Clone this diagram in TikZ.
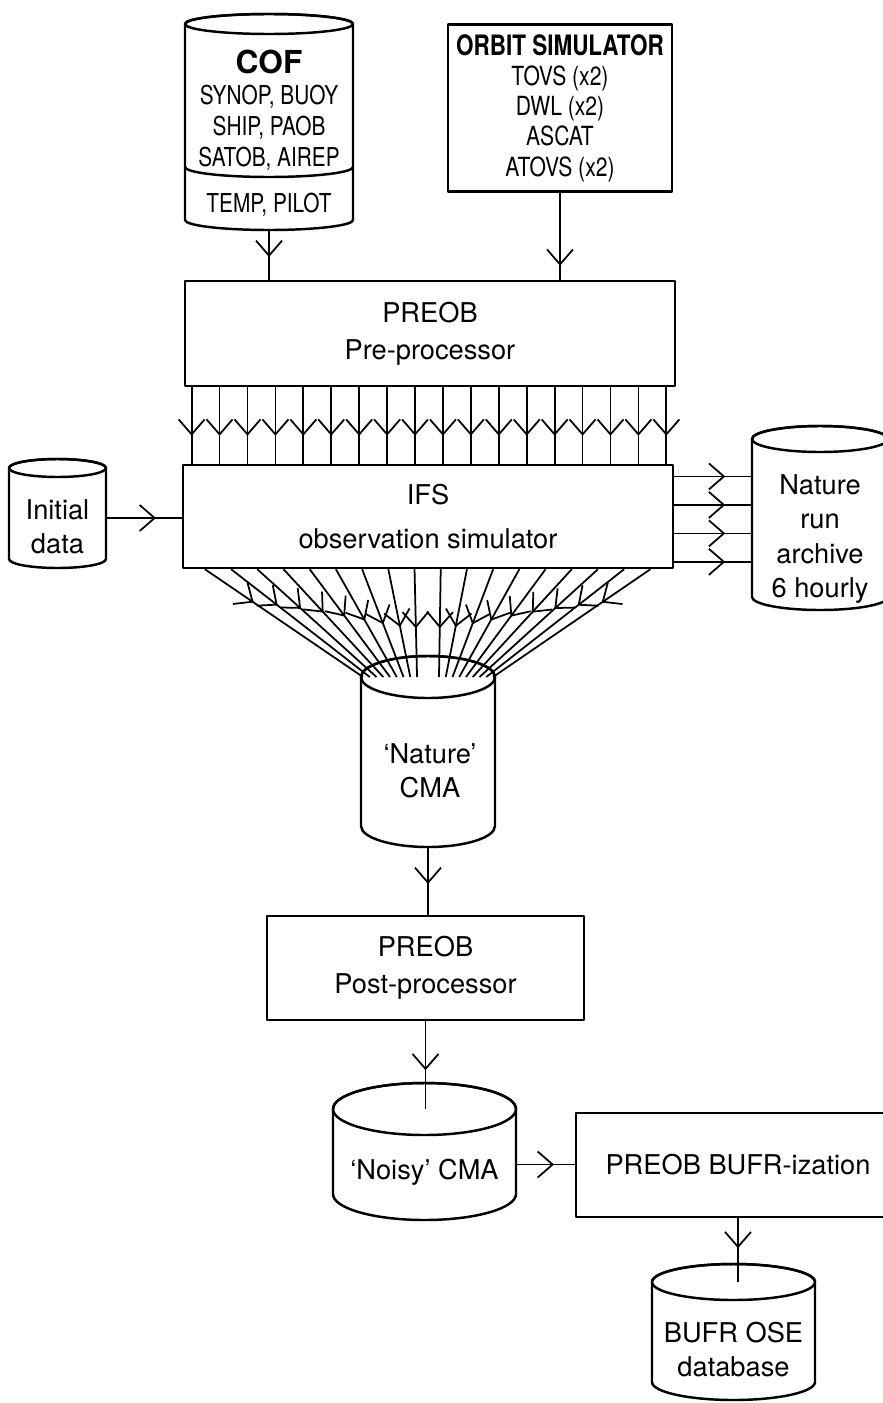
\documentclass[tikz,border=0pt]{standalone}
\usepackage{fontspec}
\setmainfont{TeX Gyre Heros}
\newfontfamily\condfont[FakeStretch=0.8]{TeX Gyre Heros}
\usetikzlibrary{positioning, calc}
\usetikzlibrary{arrows.meta}
\usetikzlibrary{decorations.markings}

% drum: name, cx, y of top ellipse, y of bottom ellipse, rx, ry
\newcommand{\drum}[6]{%
	\filldraw[drumline, fill=white] (#2-#5,#3) -- (#2-#5,#4)
		arc[start angle=180, end angle=0, x radius=#5, y radius=#6] -- (#2+#5,#3)
		arc[start angle=360, end angle=180, x radius=#5, y radius=#6] -- cycle;
	\draw[drumline] (#2,#3) ellipse [x radius=#5, y radius=#6];
	\node[drumbody, minimum width=2*#5*0.2mm, minimum height=(#4+#6-#3)*0.2mm] (#1) at (#2,{(#3+#4+#6)/2}) {};
}

\begin{document}
\begin{tikzpicture}[x=0.2mm, y=-0.2mm, line join=round]
	\tikzstyle{link}=[line width=1pt]
	\tikzstyle{drumline}=[line width=1.4pt]
	\tikzstyle{drumbody}=[inner sep=0pt, outer sep=0pt]
	\tikzstyle{procbox}=[draw, line width=1.4pt, fill=white, inner sep=0pt, align=center, font=\fontsize{15.5}{21}\selectfont]
	\tikzstyle{dbtext}=[align=center, inner sep=0pt, font=\fontsize{15.5}{19.5}\selectfont]
	\tikzset{midarrow/.style={postaction={decorate}, decoration={markings,
		mark=at position #1 with {\arrow{Straight Barb[length=3mm, width=5.2mm]}}}}}

	\useasboundingbox (0,0) rectangle (883,1403);
	\clip (0,0) rectangle (883,1403);

	% stores
	\drum{cof}{269}{24}{220}{84}{10}
	\draw[drumline] (185,167) arc[start angle=180, end angle=0, x radius=84, y radius=10];
	\drum{init}{57.5}{468}{559}{48.5}{9}
	\drum{arch}{820}{439}{597}{68}{13}
	\drum{cma}{428}{677}{826}{67}{21}
	\drum{noisy}{424.5}{1109}{1194}{91.5}{26}
	\drum{db}{733.5}{1282}{1382}{81.5}{18}

	\node[dbtext, font=\condfont\fontsize{14.8}{17.6}\selectfont] (coftxt) at (269,110)
		{{\normalfont\bfseries\fontsize{18}{17.6}\selectfont COF}\\SYNOP, BUOY\\SHIP, PAOB\\SATOB, AIREP};
	\node[dbtext, font=\condfont\fontsize{14.8}{18}\selectfont] (temptxt) at (269,205) {TEMP, PILOT};
	\node[dbtext] (inittxt) at (57.5,526.5) {Initial\\data};
	\node[dbtext] (archtxt) at (820,539) {Nature\\run\\archive\\6 hourly};
	\node[dbtext] (cmatxt) at (430,770.5) {`Nature'\\CMA};
	\node[dbtext] (noisytxt) at (424.5,1172) {`Noisy' CMA};
	\node[dbtext] (dbtxt) at (733.5,1349.5) {BUFR OSE\\database};

	% processes
	\node[procbox, minimum width=44.8mm, minimum height=33.4mm, font=\condfont\fontsize{15}{17.2}\selectfont] (orbit) at (560,108)
		{{\bfseries\fontsize{16}{17.2}\selectfont ORBIT SIMULATOR}\\TOVS (x2)\\DWL (x2)\\ASCAT\\ATOVS (x2)};
	\node[procbox, minimum width=98mm, minimum height=21mm] (pre) at (430,333.5) {PREOB\\Pre-processor};
	\node[procbox, minimum width=98mm, minimum height=20.6mm, font=\fontsize{15.5}{25.5}\selectfont] (ifs) at (428,516.5) {IFS\\observation simulator};
	\node[procbox, minimum width=63.4mm, minimum height=20.8mm] (post) at (425.5,968) {PREOB\\Post-processor};
	\node[procbox, minimum width=64.8mm, minimum height=20.8mm] (bufr) at (738,1165) {PREOB BUFR-ization};

	% flows
	\draw[link, midarrow=5.4mm] (cof.south) -- (cof.south |- pre.north);
	\draw[link, midarrow=14.6mm] (orbit.south) -- (orbit.south |- pre.north);
	\foreach \i in {0,...,17} {
		\pgfmathsetmacro\k{0.016+\i*0.0567}
		\draw[link, midarrow=9.7mm] ($(pre.south west)!\k!(pre.south east)$) coordinate (top) -- (top |- ifs.north);
	}
	\draw[link, midarrow=10mm] (init.east) -- (init.east -| ifs.west);
	\foreach \k in {0.12,0.39,0.66,0.93}
		\draw[link, midarrow=10.2mm] ($(ifs.north east)!\k!(ifs.south east)$) coordinate (out) -- (out -| arch.west);
	\foreach \i in {0,...,17} {
		\pgfmathsetmacro\ka{0.047+\i*0.0532}
		\pgfmathsetmacro\kb{\i<9 ? 0.015+\i*0.0504 : 0.582+(\i-9)*0.0504}
		\draw[link, midarrow=11.8mm] ($(ifs.south west)!\ka!(ifs.south east)$) -- ($(cma.north west)!\kb!(cma.north east)$);
	}
	\draw[link, midarrow=7.4mm] (cma.south) -- (cma.south |- post.north);
	\draw[link, midarrow=9.8mm] (post.south) -- (post.south |- noisy.north);
	\draw[link, midarrow=7.6mm] (noisy.east) -- (noisy.east -| bufr.west);
	\draw[link, midarrow=6mm] (bufr.south) -- (bufr.south |- db.north);
\end{tikzpicture}
\end{document}
